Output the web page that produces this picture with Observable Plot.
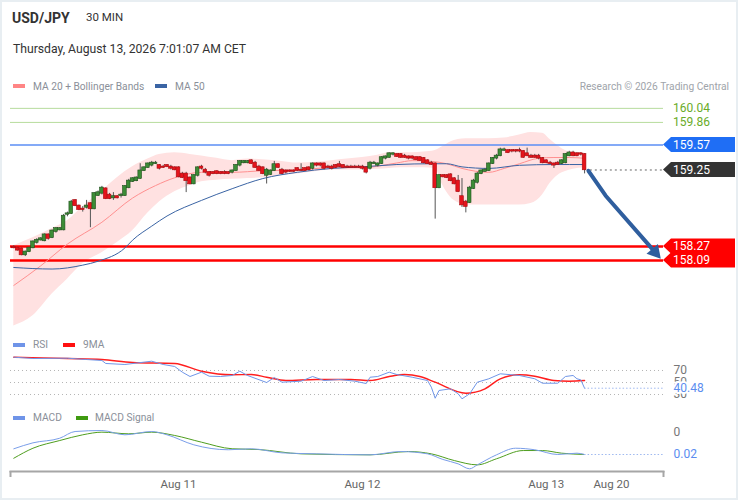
<!DOCTYPE html>
<html><head><meta charset="utf-8">
<script src="https://cdn.jsdelivr.net/npm/d3@7"></script>
<script src="https://cdn.jsdelivr.net/npm/@observablehq/plot@0.6"></script>
<style>
html,body{margin:0;padding:0;}
body{width:738px;height:500px;background:#e8eef2;font-family:Roboto,"Liberation Sans",Arial,sans-serif;position:relative;overflow:hidden;}
#card{position:absolute;left:2px;top:2px;width:734px;height:496px;background:#fff;}
.t{position:absolute;white-space:nowrap;line-height:1;}
.sw{position:absolute;height:4px;width:12px;}
.panel{position:absolute;left:0;}
.lg{font-size:10.2px;color:#8a8f99;}
</style></head><body>
<div id="card"></div>
<div class="t" style="left:12px;top:11px;font-size:14px;font-weight:bold;color:#333">USD/JPY</div>
<div class="t" style="left:86px;top:12px;font-size:11.5px;color:#333">30 MIN</div>
<div class="t" style="left:13px;top:43px;font-size:12.2px;color:#333">Thursday, August 13, 2026 7:01:07 AM CET</div>
<div class="sw" style="left:13px;top:84px;background:#ff8585"></div>
<div class="t lg" style="left:33px;top:82px">MA 20 + Bollinger Bands</div>
<div class="sw" style="left:155px;top:84px;background:#3a64a4"></div>
<div class="t lg" style="left:175px;top:82px">MA 50</div>
<div class="t lg" style="right:9px;top:82px;color:#a0a4aa">Research © 2026 Trading Central</div>
<div class="sw" style="left:13px;top:343px;background:#6f94e8"></div>
<div class="t lg" style="left:33px;top:340px">RSI</div>
<div class="sw" style="left:63px;top:343px;background:#ff1010"></div>
<div class="t lg" style="left:83px;top:340px">9MA</div>
<div class="sw" style="left:13px;top:416px;background:#6f94e8"></div>
<div class="t lg" style="left:33px;top:413px">MACD</div>
<div class="sw" style="left:76px;top:416px;background:#3f9a10"></div>
<div class="t lg" style="left:95px;top:413px">MACD Signal</div>
<div id="pricePanel" class="panel" style="top:95px"></div>
<div id="rsiPanel" class="panel" style="top:350px"></div>
<div id="macdPanel" class="panel" style="top:425px"></div>
<script>
// ---------- DATA ----------
const candleOpen = [158.26,158.25,158.24,158.16,158.20,158.25,158.32,158.35,158.34,158.42,158.38,158.46,158.48,158.48,158.68,158.69,158.86,158.79,158.75,158.77,158.82,158.75,158.92,158.95,159.01,158.93,158.89,158.91,158.92,158.92,159.02,159.10,159.11,159.14,159.24,159.28,159.31,159.33,159.31,159.29,159.31,159.29,159.28,159.28,159.20,159.20,159.15,159.07,159.18,159.29,159.25,159.22,159.22,159.23,159.22,159.22,159.22,159.22,159.24,159.31,159.34,159.34,159.37,159.34,159.29,159.28,159.18,159.19,159.24,159.32,159.25,159.24,159.24,159.24,159.27,159.25,159.27,159.28,159.27,159.33,159.33,159.33,159.29,159.29,159.31,159.32,159.31,159.29,159.29,159.29,159.29,159.29,159.28,159.27,159.33,159.31,159.33,159.40,159.41,159.45,159.45,159.45,159.43,159.42,159.42,159.41,159.41,159.40,159.37,159.34,159.33,159.02,159.18,159.18,159.19,159.14,159.11,158.91,158.84,158.83,159.01,159.09,159.20,159.23,159.24,159.33,159.40,159.43,159.50,159.50,159.50,159.50,159.50,159.49,159.46,159.43,159.43,159.43,159.40,159.37,159.34,159.33,159.34,159.33,159.34,159.43,159.47,159.46,159.46,159.45];
const candleHigh = [158.28,158.26,158.25,158.21,158.26,158.34,158.37,158.38,158.43,158.43,158.48,158.51,158.51,158.68,158.71,158.86,158.87,158.80,158.78,158.86,158.83,158.96,158.98,159.04,159.02,158.95,158.96,158.92,158.95,159.05,159.13,159.15,159.16,159.33,159.29,159.34,159.36,159.36,159.32,159.31,159.32,159.31,159.29,159.29,159.22,159.22,159.16,159.19,159.29,159.31,159.27,159.23,159.23,159.24,159.23,159.24,159.23,159.25,159.32,159.37,159.37,159.37,159.38,159.36,159.31,159.29,159.27,159.25,159.36,159.33,159.27,159.25,159.25,159.25,159.28,159.33,159.28,159.29,159.34,159.34,159.34,159.34,159.31,159.31,159.32,159.36,159.32,159.31,159.31,159.31,159.31,159.31,159.29,159.36,159.36,159.34,159.42,159.43,159.47,159.47,159.46,159.46,159.45,159.43,159.43,159.42,159.42,159.41,159.38,159.36,159.34,159.19,159.19,159.19,159.20,159.15,159.18,159.14,158.86,159.04,159.13,159.22,159.25,159.27,159.34,159.41,159.45,159.53,159.53,159.51,159.51,159.51,159.53,159.50,159.53,159.45,159.45,159.45,159.41,159.38,159.36,159.34,159.36,159.38,159.46,159.49,159.49,159.47,159.47,159.46];
const candleLow = [158.24,158.21,158.15,158.14,158.19,158.24,158.30,158.34,158.33,158.35,158.37,158.44,158.47,158.47,158.65,158.68,158.78,158.73,158.71,158.75,158.51,158.74,158.91,158.93,158.87,158.87,158.86,158.88,158.89,158.91,159.01,159.09,159.10,159.13,159.23,159.27,159.29,159.32,159.25,159.27,159.28,159.25,159.24,159.15,159.14,158.96,159.06,159.06,159.16,159.25,159.20,159.16,159.19,159.19,159.19,159.19,159.19,159.20,159.23,159.29,159.33,159.33,159.32,159.27,159.23,159.19,159.07,159.18,159.23,159.27,159.19,159.20,159.22,159.22,159.23,159.23,159.23,159.24,159.25,159.29,159.29,159.25,159.27,159.25,159.27,159.28,159.27,159.27,159.27,159.27,159.27,159.25,159.20,159.25,159.32,159.29,159.32,159.38,159.40,159.43,159.41,159.40,159.40,159.38,159.38,159.37,159.36,159.33,159.32,159.31,158.62,159.01,159.15,159.14,159.10,159.06,158.96,158.77,158.70,158.82,159.00,159.07,159.19,159.22,159.23,159.32,159.38,159.42,159.49,159.46,159.47,159.47,159.47,159.40,159.42,159.40,159.40,159.38,159.33,159.33,159.32,159.27,159.31,159.32,159.33,159.42,159.42,159.42,159.43,159.20];
const candleClose = [158.25,158.22,158.16,158.20,158.25,158.33,158.35,158.37,158.42,158.37,158.47,158.50,158.50,158.66,158.69,158.84,158.79,158.74,158.74,158.79,158.75,158.95,158.96,159.02,158.88,158.88,158.91,158.89,158.93,159.04,159.11,159.14,159.15,159.24,159.28,159.33,159.34,159.34,159.27,159.28,159.29,159.27,159.25,159.16,159.15,159.11,159.07,159.18,159.28,159.27,159.22,159.18,159.20,159.20,159.20,159.20,159.20,159.24,159.31,159.36,159.36,159.36,159.33,159.28,159.24,159.20,159.25,159.24,159.32,159.28,159.20,159.22,159.23,159.23,159.24,159.24,159.24,159.25,159.33,159.31,159.31,159.27,159.28,159.27,159.28,159.29,159.28,159.28,159.28,159.28,159.28,159.27,159.22,159.34,159.34,159.33,159.41,159.42,159.46,159.46,159.42,159.41,159.41,159.40,159.40,159.38,159.37,159.34,159.33,159.32,159.02,159.18,159.16,159.15,159.11,159.07,158.97,158.80,158.78,159.02,159.11,159.20,159.24,159.25,159.33,159.40,159.43,159.51,159.51,159.47,159.49,159.49,159.49,159.41,159.43,159.41,159.41,159.40,159.34,159.34,159.33,159.31,159.32,159.37,159.45,159.47,159.43,159.43,159.45,159.25];

const bbIdx   = [0,5,10,14,18,23,27,31,35,38,42,46,49,53,57,61,65,70,74,79,83,87,91,95,98,101,104,107,110,112,114,116,118,121,124,128,132,135,138,140,142,144,146,149];
const bbUpper = [158.28,158.38,158.50,158.60,158.78,158.98,159.15,159.29,159.39,159.45,159.47,159.45,159.43,159.40,159.37,159.39,159.38,159.36,159.34,159.35,159.37,159.39,159.41,159.44,159.47,159.47,159.47,159.48,159.50,159.55,159.61,159.64,159.65,159.65,159.65,159.66,159.70,159.73,159.72,159.64,159.56,159.50,159.48,159.47];
const bbLower = [157.25,157.38,157.66,157.85,158.05,158.19,158.32,158.47,158.70,158.84,158.97,159.05,159.10,159.12,159.13,159.14,159.15,159.18,159.20,159.23,159.25,159.25,159.25,159.26,159.27,159.28,159.28,159.28,159.27,159.05,158.90,158.83,158.80,158.80,158.80,158.80,158.80,158.82,158.93,159.08,159.18,159.23,159.26,159.28];

const ma20Idx = [0,7,14,23,31,37,42,49,57,65,74,83,91,100,104,109,113,117,124,128,132,137,141,145,149];
const ma20Val = [157.77,158.02,158.30,158.58,158.89,159.05,159.15,159.22,159.22,159.24,159.25,159.28,159.28,159.34,159.37,159.36,159.33,159.27,159.22,159.27,159.33,159.40,159.41,159.41,159.40];

const ma50Idx = [0,10,18,22,29,31,36,40,49,57,65,74,83,91,100,109,113,117,124,132,141,149];
const ma50Val = [158.00,157.98,158.03,158.08,158.25,158.35,158.53,158.66,158.86,159.01,159.14,159.22,159.27,159.29,159.32,159.33,159.33,159.29,159.27,159.31,159.32,159.32];

const rsiIdx = [0,5,14,19,23,24,29,36,39,42,44,46,49,51,54,57,59,61,66,68,70,75,78,81,85,89,92,93,95,98,100,104,108,109,110,111,114,116,117,119,121,124,127,132,136,138,142,144,146,147,148,149];
const rsiVal = [92.2,90,90.5,88.3,86.7,81.7,80,85.5,80,76.7,67.2,60,67.2,60.5,60,61.7,68.8,61.7,50,58.3,50.5,52.2,60,53.3,55,52.2,48.3,58.8,60,67.2,63.3,58.8,53.3,42.2,23.8,36.7,39.5,31.2,22.8,31.2,50.5,56.2,64.5,61.7,56.2,48.8,48.8,60,61.7,56.2,54.5,40.48];
const rsiMaIdx = [0,14,23,31,42,49,57,62,66,71,79,88,93,98,102,106,110,118,123,127,132,136,141,145,149];
const rsiMaVal = [92.2,90,88.3,83.3,81.7,68.8,62.8,63.3,58.8,53.3,55,55,53.3,60,63.3,60,50.5,32.2,39.5,56.2,62.8,60.5,53.3,52.2,53.3];
const rsiLevels = [70,50,30];
const rsiLastLabel = "40.48";

const macdIdx = [0,5,12,16,23,29,36,40,47,56,62,70,79,93,101,108,112,116,119,121,126,131,136,142,147,149];
const macdVal = [-0.0148,-0.0094,-0.0052,0.0009,0.0018,-0.0021,0.0009,-0.0021,-0.0112,-0.0157,-0.0148,-0.0185,-0.0194,-0.0203,-0.0173,-0.0194,-0.0245,-0.0285,-0.0330,-0.0294,-0.0203,-0.0143,-0.0157,-0.0200,-0.0188,-0.0200];
const signalIdx = [0,5,12,18,23,30,36,42,49,57,64,75,93,103,109,115,121,126,133,138,143,149];
const signalVal = [-0.0234,-0.0143,-0.0073,-0.0021,0.0003,-0.0012,0.0003,-0.0027,-0.0088,-0.0148,-0.0155,-0.0194,-0.0203,-0.0173,-0.0194,-0.0255,-0.0294,-0.0239,-0.0164,-0.0164,-0.0188,-0.0200];
const macdZeroLabel = "0";
const macdLastLabel = "0.02";

const levelValues = [160.04, 159.86, 159.57, 159.25, 158.27, 158.09];
const levelKinds  = ["target", "target", "resistance", "last", "support", "support"];
const lastPrice = 159.25;

const forecastIdx = [150, 154.5, 167.4];
const forecastVal = [159.24, 158.92, 158.197];

const dayTicks  = [43, 91, 139, 156];
const dayLabels = ["Aug 11", "Aug 12", "Aug 13", "Aug 20"];

// ---------- LAYOUT / STYLE ----------
const W = 738, ML = 10, MR = 75;
const X_DOMAIN = [-0.86, 169.6];
const FONT = "Roboto, 'Liberation Sans', Arial, sans-serif";
const kindStyle = {
  target:     {line: "#b7dc9d", lineWidth: 1,   box: null,      text: "#6aab28"},
  resistance: {line: "#5b8ef5", lineWidth: 1.5, box: "#1f6ef5", text: "#fff"},
  last:       {line: null,      lineWidth: 0,   box: "#333333", text: "#fff"},
  support:    {line: "#ff0000", lineWidth: 2.5, box: "#ff0000", text: "#fff"}
};

const candles = candleClose.map((c, i) => ({i, o: candleOpen[i], h: candleHigh[i], l: candleLow[i], c, up: c >= candleOpen[i]}));
const bb = bbIdx.map((i, k) => ({i, hi: bbUpper[k], lo: bbLower[k]}));
const ma20 = ma20Idx.map((i, k) => ({i, v: ma20Val[k]}));
const ma50 = ma50Idx.map((i, k) => ({i, v: ma50Val[k]}));
const levels = levelValues.map((v, k) => ({v, kind: levelKinds[k], label: v.toFixed(2)}));
const forecast = forecastIdx.map((i, k) => ({i, v: forecastVal[k]}));
const lastIdx = candleClose.length - 1;

function levelTags(index, scales, values, dims) {
  const g = d3.create("svg:g").attr("font-family", FONT).attr("font-size", 12).attr("text-anchor", "start");
  const x0 = dims.width - dims.marginRight;
  for (const L of levels) {
    const s = kindStyle[L.kind];
    const y = scales.y(L.v);
    if (s.box) {
      g.append("path")
        .attr("d", `M${x0},${y} L${x0 + 8},${y - 7.5} L${x0 + 72},${y - 7.5} L${x0 + 72},${y + 7.5} L${x0 + 8},${y + 7.5} Z`)
        .attr("fill", s.box);
    }
    g.append("text").attr("x", x0 + 10).attr("y", y).attr("dy", "0.36em")
      .attr("text-anchor", "start").attr("fill", s.text).text(L.label);
  }
  return g.node();
}

const price = Plot.plot({
  width: W, height: 235, marginLeft: ML, marginRight: MR, marginTop: 0, marginBottom: 0,
  x: {domain: X_DOMAIN, axis: null, label: null},
  y: {domain: [157.192, 160.205], axis: null, label: null},
  style: {background: "transparent", overflow: "visible", fontFamily: FONT},
  marks: [
    Plot.areaY(bb, {x: "i", y1: "lo", y2: "hi", fill: "#ffe1e1", curve: "monotone-x"}),
    Plot.ruleY(levels.filter(d => kindStyle[d.kind].line), {
      y: "v", stroke: d => kindStyle[d.kind].line, strokeWidth: d => kindStyle[d.kind].lineWidth
    }),
    Plot.line(ma20, {x: "i", y: "v", stroke: "#ff9090", strokeWidth: 1, curve: "monotone-x"}),
    Plot.line(ma50, {x: "i", y: "v", stroke: "#3a64a4", strokeWidth: 1, curve: "monotone-x"}),
    Plot.ruleX(candles, {x: "i", y1: "l", y2: "h", stroke: "#555", strokeWidth: 1}),
    Plot.rect(candles, {
      x1: d => d.i - 0.4, x2: d => d.i + 0.4, y1: "o", y2: "c",
      fill: d => d.up ? "#3c8c36" : "#e5141c",
      stroke: d => d.up ? "#1f4f1c" : "#a80a0f", strokeWidth: 0.6, inset: -0.3
    }),
    Plot.ruleY([lastPrice], {x1: lastIdx + 1.5, x2: X_DOMAIN[1], stroke: "#666", strokeDasharray: "2,3"}),
    Plot.line(forecast, {x: "i", y: "v", stroke: "#2f5e9e", strokeWidth: 4}),
    Plot.dot(forecast.slice(-1), {x: "i", y: "v", symbol: "triangle", r: 5.6, rotate: 139, fill: "#2f5e9e", stroke: null}),
    levelTags
  ]
});
document.getElementById("pricePanel").appendChild(price);

// RSI panel
const rsi = rsiIdx.map((i, k) => ({i, v: rsiVal[k]}));
const rsiMa = rsiMaIdx.map((i, k) => ({i, v: rsiMaVal[k]}));
const rsiLast = rsi[rsi.length - 1];
const rsiPlot = Plot.plot({
  width: W, height: 55, marginLeft: ML, marginRight: MR, marginTop: 0, marginBottom: 0,
  x: {domain: X_DOMAIN, axis: null, label: null},
  y: {domain: [11.67, 103.33], axis: null, label: null},
  style: {background: "transparent", overflow: "visible", fontFamily: FONT},
  marks: [
    Plot.ruleY(rsiLevels, {stroke: "#b5b5b5", strokeDasharray: "1,3"}),
    Plot.line(rsiMa, {x: "i", y: "v", stroke: "#ff1e1e", strokeWidth: 1.4, curve: "monotone-x"}),
    Plot.line(rsi, {x: "i", y: "v", stroke: "#7096e8", strokeWidth: 1}),
    Plot.ruleY([rsiLast.v], {x1: rsiLast.i, x2: X_DOMAIN[1], stroke: "#9fb9f0", strokeDasharray: "1.5,2"}),
    Plot.text(rsiLevels, {y: d => d, text: d => String(d), frameAnchor: "right", dx: 10, textAnchor: "start", fill: "#777", fontSize: 12}),
    Plot.text([rsiLast], {y: "v", text: () => rsiLastLabel, frameAnchor: "right", dx: 10, textAnchor: "start", fill: "#5b8def", fontSize: 12, stroke: "white", strokeWidth: 4})
  ]
});
document.getElementById("rsiPanel").appendChild(rsiPlot);

// MACD panel
const macd = macdIdx.map((i, k) => ({i, v: macdVal[k]}));
const signal = signalIdx.map((i, k) => ({i, v: signalVal[k]}));
const macdLast = macd[macd.length - 1];
const macdPlot = Plot.plot({
  width: W, height: 75, marginLeft: ML, marginRight: MR, marginTop: 0, marginBottom: 29,
  x: {domain: X_DOMAIN, axis: null, label: null},
  y: {domain: [-0.03545, 0.00636], axis: null, label: null},
  style: {background: "transparent", overflow: "visible", fontFamily: FONT},
  marks: [
    Plot.line(signal, {x: "i", y: "v", stroke: "#4f9e1f", strokeWidth: 1, curve: "monotone-x"}),
    Plot.line(macd, {x: "i", y: "v", stroke: "#7a9ee9", strokeWidth: 1, curve: "monotone-x"}),
    Plot.ruleY([macdLast.v], {x1: macdLast.i, x2: X_DOMAIN[1], stroke: "#9fb9f0", strokeDasharray: "1.5,2"}),
    Plot.text([0], {y: d => d, text: () => macdZeroLabel, frameAnchor: "right", dx: 10, textAnchor: "start", fill: "#777", fontSize: 12}),
    Plot.text([macdLast], {y: "v", text: () => macdLastLabel, frameAnchor: "right", dx: 10, textAnchor: "start", fill: "#5b8def", fontSize: 12}),
    Plot.frame({anchor: "bottom", stroke: "#a6a6a6", strokeWidth: 2}),
    Plot.axisX({ticks: X_DOMAIN, tickSize: 6, tickFormat: () => "", stroke: "#a6a6a6", strokeWidth: 2, label: null}),
    Plot.axisX({ticks: dayTicks, tickSize: 0, tickPadding: 8, fontSize: 11.5, color: "#666", label: null,
      tickFormat: d => dayLabels[dayTicks.indexOf(d)]})
  ]
});
document.getElementById("macdPanel").appendChild(macdPlot);
</script>
</body></html>
